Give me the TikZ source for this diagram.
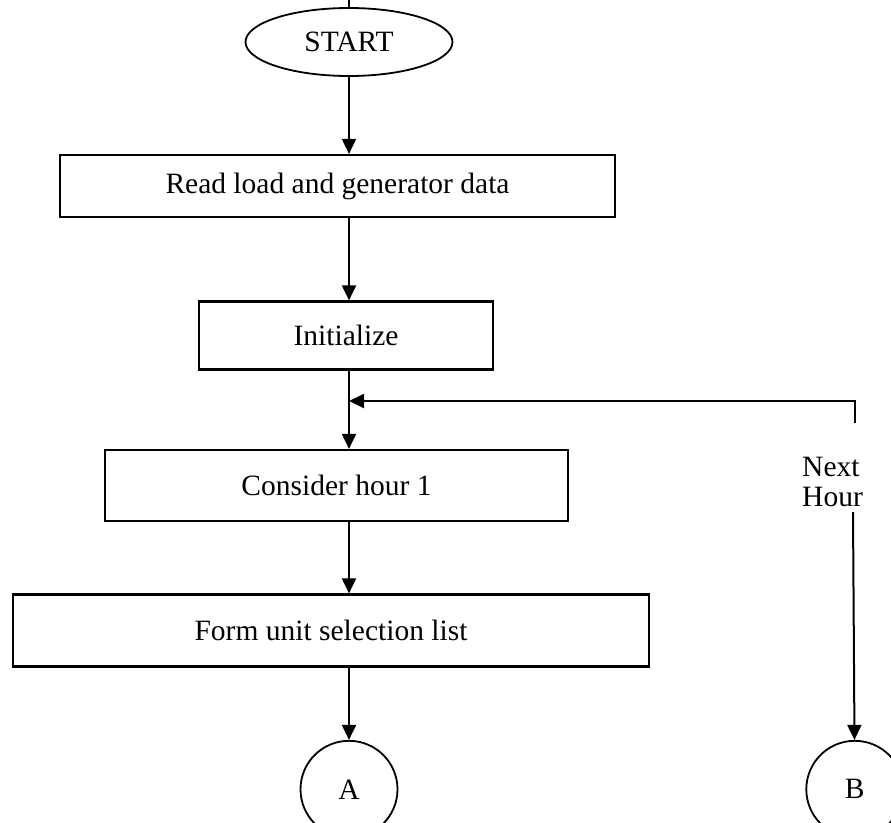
\documentclass[tikz,border=0pt]{standalone}
\usepackage{fontspec}
\setmainfont{Liberation Serif}
\usetikzlibrary{shapes.geometric, arrows.meta, positioning}
\newcommand{\flfont}{\fontsize{29.5}{30}\selectfont}
\tikzset{
  term/.style={ellipse, draw=black, line width=1.8pt,
    minimum width=207pt, minimum height=68pt,
    inner sep=0pt, font=\flfont},
  box/.style={rectangle, draw=black, line width=2.5pt,
    inner sep=0pt, align=center, font=\flfont},
  conn/.style={circle, draw=black, line width=1.8pt,
    minimum size=97pt, inner sep=0pt, font=\flfont},
  arr/.style={-{Triangle[length=15pt, width=14pt]}, draw=black, line width=2pt},
  lbl/.style={font=\flfont, align=left, inner sep=0pt},
}

\begin{document}
\begin{tikzpicture}[x=1pt, y=-1pt, node distance=77pt]
  \useasboundingbox (0,0) rectangle (891,822);

  \node[term] (start) at (349,42) {START};
  \node[box, minimum width=555pt, minimum height=62pt] (read)
    [below=77pt of start, xshift=-11.5pt] {Read load and generator data};
  \node[box, minimum width=294pt, minimum height=68pt] (init)
    [below=82pt of read, xshift=8.5pt] {Initialize};
  \node[box, minimum width=463pt, minimum height=71pt] (hour)
    [below=78pt of init, xshift=-9.5pt] {Consider hour 1};
  \node[box, minimum width=636pt, minimum height=72pt] (form)
    [below=71pt of hour, xshift=-5.5pt] {Form unit selection list};
  \node[conn] (A) [below=72pt of form, xshift=18pt] {A};
  \node[conn] (B) [right=407pt of A] {B};
  \node[lbl, anchor=west] (nexthr) at (802,482) {Next\\Hour};

  % loop back from the right
  \coordinate (tick) at (349,0);
  \coordinate (join) at (349,401);
  \coordinate (turn) at (B |- join);
  \coordinate (nxttop) at ([yshift=-22pt]turn);
  \coordinate (nxtbot) at (853,512);

  \draw[line width=1.8pt] (start.north) -- (tick);
  \draw[arr] (start) -- (start |- read.north);
  \draw[arr] (read.south -| start) -- (init.north -| start);
  \draw[arr] (init.south -| start) -- (hour.north -| start);
  \draw[arr] (hour.south -| start) -- (form.north -| start);
  \draw[arr] (form.south -| A) -- (A);
  \draw[arr] (nxttop) -- (turn) -- (join);
  \draw[arr] (nxtbot) -- (B);
\end{tikzpicture}
\end{document}
